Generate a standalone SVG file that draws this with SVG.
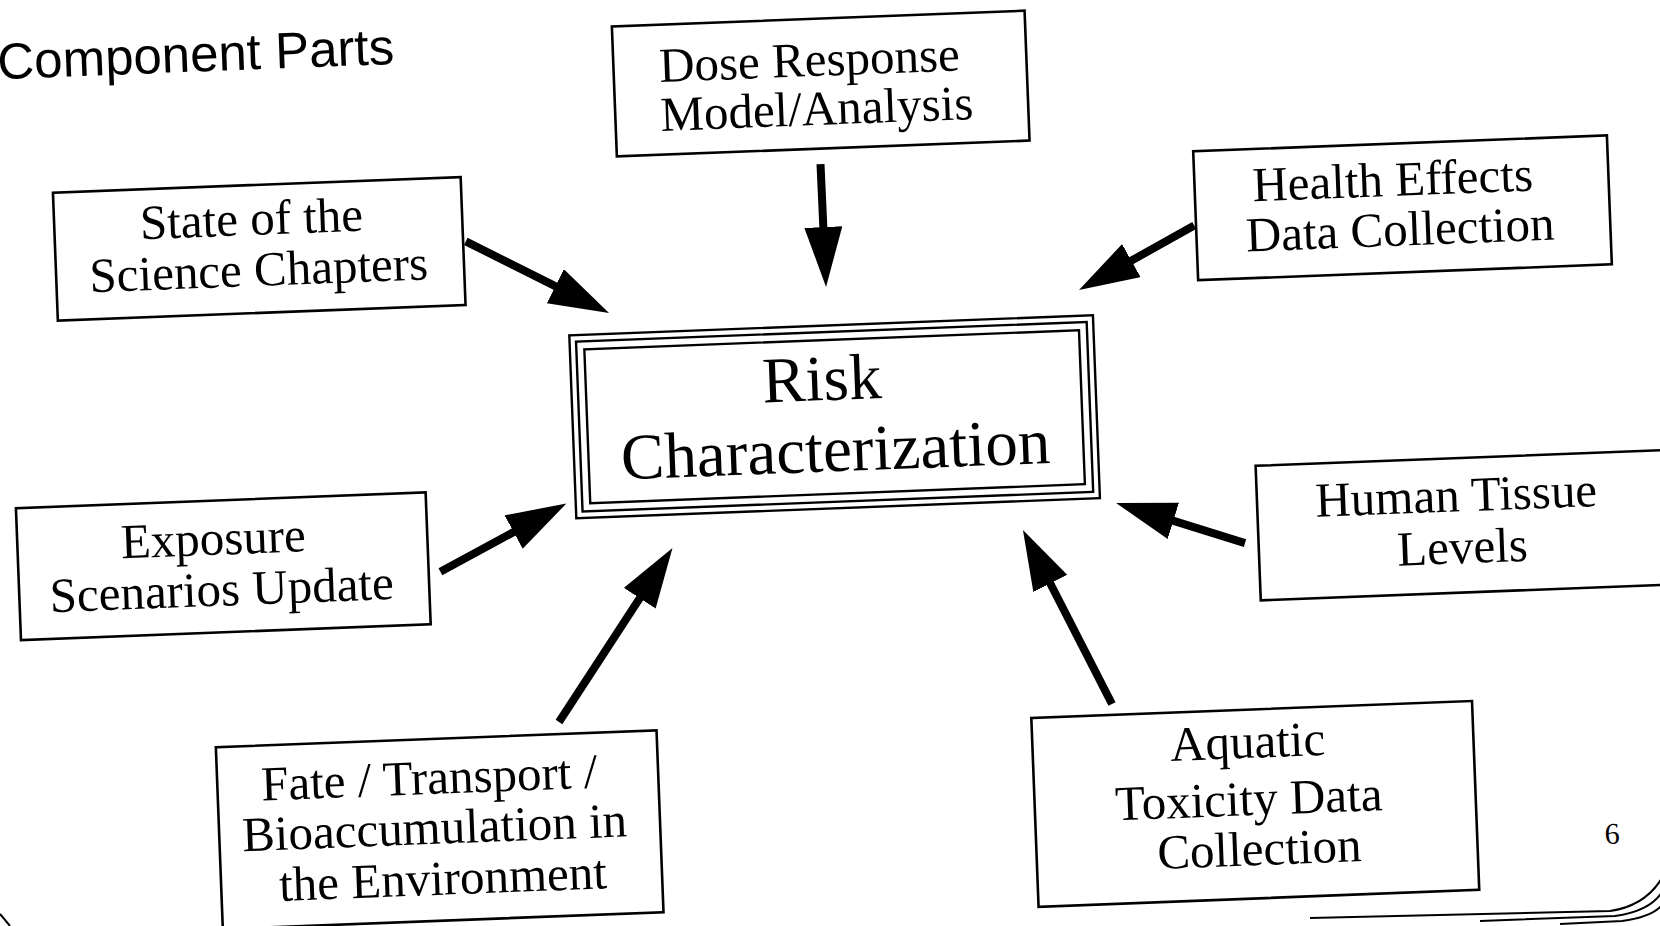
<svg xmlns="http://www.w3.org/2000/svg" width="1660" height="926" viewBox="0 0 1660 926">
<style>
.box{fill:none;stroke:#000;stroke-width:2.6}
.frame{fill:none;stroke:#000;stroke-width:2.4}
.t{font-family:"Liberation Serif","Times New Roman",serif;font-size:49px;fill:#000;text-anchor:middle}
.big{font-size:65px}
.title{font-family:"Liberation Sans",Arial,sans-serif;font-size:51px;fill:#000}
.num{font-family:"Liberation Serif","Times New Roman",serif;font-size:30px;fill:#000;text-anchor:middle}
.arrow{stroke:#000;stroke-width:8;fill:none;marker-end:url(#head)}
.border{fill:none;stroke:#000;stroke-width:2}
</style>
<defs>
<marker id="head" markerUnits="userSpaceOnUse" markerWidth="62" markerHeight="40" refX="30" refY="19" orient="auto">
<path d="M0,0 L60,19 L0,38 Z" fill="#000"/>
</marker>
</defs>
<rect width="1660" height="926" fill="#fff"/>
<g transform="rotate(-2.2)">
<text id="title" class="title" x="-5" y="79">Component Parts</text>
<g id="dose">
<rect class="box" x="610.4" y="50" width="413" height="130"/>
<text class="t" x="806.4" y="107.2">Dose Response</text>
<text class="t" x="811.9" y="156.2">Model/Analysis</text>
</g>
<g id="state">
<rect class="box" x="45.5" y="194.6" width="408" height="128"/>
<text class="t" x="242.8" y="244.5">State of the</text>
<text class="t" x="248.2" y="295.6">Science Chapters</text>
</g>
<g id="health">
<rect class="box" x="1186.5" y="197" width="414" height="129"/>
<text class="t" x="1384.7" y="249.2">Health Effects</text>
<text class="t" x="1390.3" y="299.2">Data Collection</text>
</g>
<g id="risk">
<rect class="frame" x="556" y="357" width="524" height="183"/>
<rect class="frame" x="562.5" y="363.5" width="511" height="170"/>
<rect class="frame" x="570.5" y="371.5" width="495" height="154"/>
<text class="t big" x="806.6" y="431.5">Risk</text>
<text class="t big" x="817.7" y="502.9">Characterization</text>
</g>
<g id="exposure">
<rect class="box" x="-3.6" y="508.4" width="410" height="132"/>
<text class="t" x="192.4" y="562.6">Exposure</text>
<text class="t" x="198.8" y="613.7">Scenarios Update</text>
</g>
<g id="human">
<rect class="box" x="1236.8" y="513.7" width="440" height="134.6"/>
<text class="t" x="1436.1" y="567">Human Tissue</text>
<text class="t" x="1440.4" y="619">Levels</text>
</g>
<g id="fate">
<rect class="box" x="187" y="755" width="441" height="182"/>
<text class="t" x="399" y="809.9">Fate / Transport /</text>
<text class="t" x="402.4" y="859.9">Bioaccumulation in</text>
<text class="t" x="408.9" y="911">the Environment</text>
</g>
<g id="aquatic">
<rect class="box" x="1003" y="757" width="441" height="189"/>
<text class="t" x="1218.2" y="805.3">Aquatic</text>
<text class="t" x="1217.1" y="862.6">Toxicity Data</text>
<text class="t" x="1225.8" y="912.8">Collection</text>
</g>
<text id="page" class="num" x="1579" y="905">6</text>
</g>
<g id="connectors">
<line class="arrow" x1="820.5" y1="164.1" x2="824.7" y2="257"/>
<line class="arrow" x1="465.8" y1="241.4" x2="582.2" y2="299.6"/>
<line class="arrow" x1="1194.2" y1="225.5" x2="1105.2" y2="275.3"/>
<line class="arrow" x1="440.4" y1="571.7" x2="540" y2="517.8"/>
<line class="arrow" x1="559" y1="722" x2="656.1" y2="573.1"/>
<line class="arrow" x1="1245" y1="543.1" x2="1144.7" y2="511.9"/>
<line class="arrow" x1="1112" y1="704" x2="1036.6" y2="556.7"/>
</g>
<g id="page-border">
<path class="border" d="M1310,918 L1610,911 Q1645,906 1662,878"/>
<path class="border" d="M1480,921 L1615,916 Q1650,911 1662,892"/>
<path class="border" d="M1560,924 L1622,921 Q1652,917 1662,905"/>
<path class="border" d="M0,914 L10,926"/>
</g>
</svg>
